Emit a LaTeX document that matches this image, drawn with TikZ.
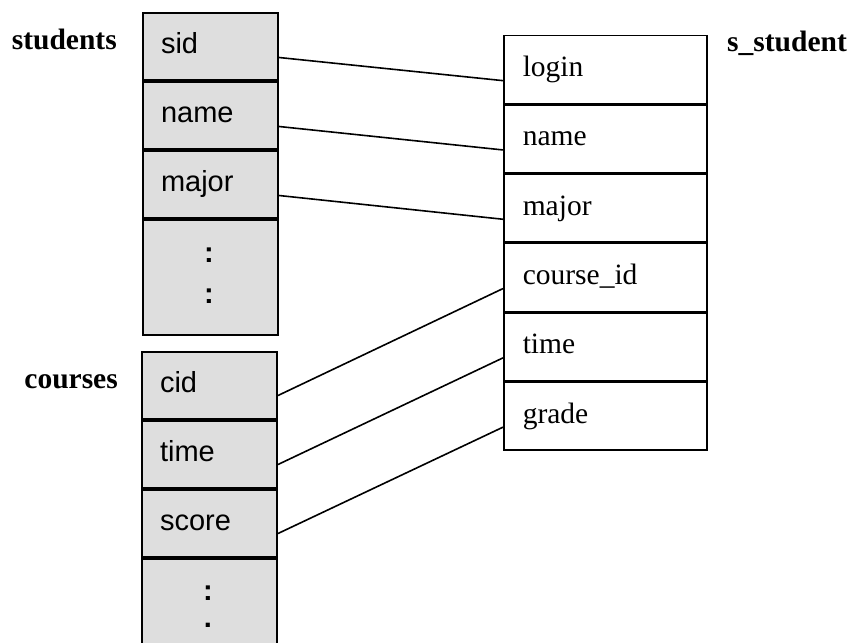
\documentclass[tikz,border=0pt]{standalone}
\usepackage{fontspec}
\setmainfont{Liberation Serif}
\setsansfont{Liberation Sans}
\begin{document}
\begin{tikzpicture}[x=1pt,y=-1pt,
  srcrow/.style={draw=black, line width=2pt, fill=black!13,
    minimum width=135pt, minimum height=67pt, inner xsep=18pt, inner ysep=0pt,
    text width=99pt, align=left, text height=20pt, text depth=6pt,
    font=\sffamily\fontsize{29}{30}\selectfont, anchor=north west},
  dstrow/.style={draw=black, line width=1.5pt, fill=white,
    minimum width=203pt, minimum height=67.8pt, inner xsep=19pt, inner ysep=0pt,
    text width=165pt, align=left, text height=20pt, text depth=6pt,
    font=\rmfamily\fontsize{29.5}{30}\selectfont, anchor=north west},
  tbl/.style={font=\rmfamily\bfseries\fontsize{29.5}{30}\selectfont, inner sep=0pt},
  vdots/.style={font=\sffamily\bfseries\fontsize{29}{30}\selectfont, inner sep=0pt, anchor=base},
  conn/.style={draw=black, line width=1.6pt}]
\useasboundingbox (0,0) rectangle (853,642);
\fill[white] (0,0) rectangle (853,642);

% table: students
\node[tbl, anchor=base east] (lstudents) at (117,50) {students};
\node[srcrow] (ssid) at (142,12) {sid};
\node[srcrow] (sname) at (ssid.south west) {name};
\node[srcrow] (smajor) at (sname.south west) {major};
\node[srcrow, minimum height=115pt] (smore) at (smajor.south west) {};
\node[vdots] (sd1) at (209,262.5) {:};
\node[vdots] (sd2) at (209,303.5) {:};

% table: courses
\node[tbl, anchor=base east] (lcourses) at (118,388) {courses};
\node[srcrow] (ccid) at (141,351) {cid};
\node[srcrow] (ctime) at (ccid.south west) {time};
\node[srcrow] (cscore) at (ctime.south west) {score};
\node[srcrow, minimum height=88pt] (cmore) at (cscore.south west) {};
\node[vdots] (cd1) at (208,600.5) {:};
\node[vdots] (cd2) at (208,627.5) {.};

% table: s_student
\node[tbl, anchor=base west] (lsstudent) at (727,52) {s\_student};
\node[dstrow] (tlogin) at (503,35) {login};
\node[dstrow] (tname) at (tlogin.south west) {name};
\node[dstrow] (tmajor) at (tname.south west) {major};
\node[dstrow] (tcourse) at (tmajor.south west) {course\_id};
\node[dstrow] (ttime) at (tcourse.south west) {time};
\node[dstrow] (tgrade) at (ttime.south west) {grade};

% attribute mappings
\draw[conn] ([yshift=-11pt]ssid.east) -- ([yshift=-11pt]tlogin.west);
\draw[conn] ([yshift=-11pt]sname.east) -- ([yshift=-11pt]tname.west);
\draw[conn] ([yshift=-11pt]smajor.east) -- ([yshift=-11pt]tmajor.west);
\draw[conn] ([yshift=-10pt]ccid.east) -- ([yshift=-11pt]tcourse.west);
\draw[conn] ([yshift=-10pt]ctime.east) -- ([yshift=-11pt]ttime.west);
\draw[conn] ([yshift=-10pt]cscore.east) -- ([yshift=-11pt]tgrade.west);
\end{tikzpicture}
\end{document}
